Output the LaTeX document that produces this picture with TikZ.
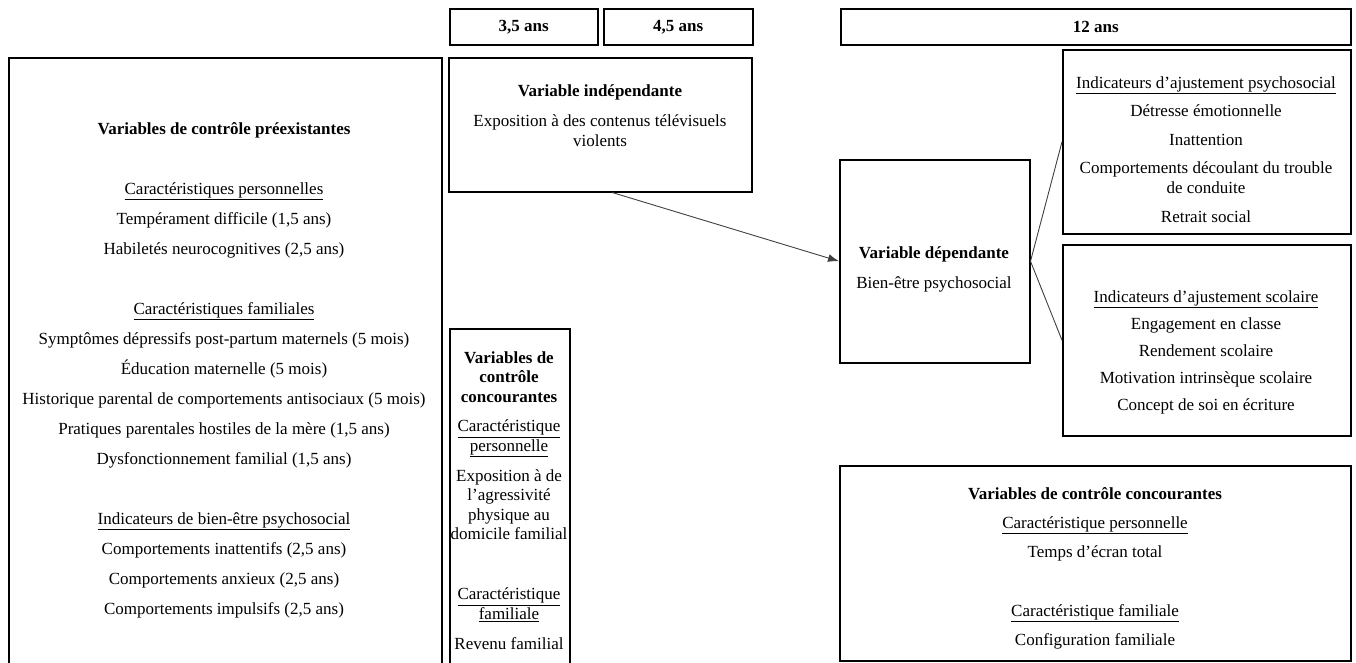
\documentclass[tikz,border=0pt]{standalone}
\usepackage{fontspec}
\setmainfont{Liberation Serif}
\usetikzlibrary{arrows.meta}
\newcommand{\pxunit}{1pt}

\begin{document}
\begin{tikzpicture}
\tikzset{
  box/.style={draw, line width=1.5pt, inner sep=0pt, anchor=north west,
              font=\fontsize{17}{20}\selectfont\bfseries},
  txt/.style={align=center, inner sep=0pt, anchor=north,
              font=\fontsize{17}{20}\selectfont},
  conn/.style={line width=0.9pt, black!75}
}
\useasboundingbox (0,0) rectangle (1356*\pxunit,-662*\pxunit);

% ages
\node[box, minimum width=148*\pxunit, minimum height=36*\pxunit] (age35) at (449*\pxunit,-8*\pxunit) {3,5 ans};
\node[box, minimum width=149*\pxunit, minimum height=36*\pxunit] (age45) at (603*\pxunit,-8*\pxunit) {4,5 ans};
\node[box, minimum width=510*\pxunit, minimum height=36*\pxunit] (age12) at (840*\pxunit,-8*\pxunit) {12 ans};

% boxes
\node[box, minimum width=433*\pxunit, minimum height=620*\pxunit] (pre) at (8*\pxunit,-57*\pxunit) {};
\node[box, minimum width=303*\pxunit, minimum height=134*\pxunit] (vi) at (448*\pxunit,-57*\pxunit) {};
\node[box, minimum width=120*\pxunit, minimum height=350*\pxunit] (concmid) at (449*\pxunit,-328*\pxunit) {};
\node[box, minimum width=190*\pxunit, minimum height=203*\pxunit] (vd) at (839*\pxunit,-159*\pxunit) {};
\node[box, minimum width=288*\pxunit, minimum height=184*\pxunit] (psy) at (1062*\pxunit,-49*\pxunit) {};
\node[box, minimum width=288*\pxunit, minimum height=191*\pxunit] (scol) at (1062*\pxunit,-244*\pxunit) {};
\node[box, minimum width=511*\pxunit, minimum height=195*\pxunit] (concright) at (839*\pxunit,-465*\pxunit) {};

% texts
\node[txt, font=\fontsize{17}{30}\selectfont] (pretext) at (224*\pxunit,-122*\pxunit) {\textbf{Variables de contrôle préexistantes}\\[30pt]
\underline{Caractéristiques personnelles}\\
Tempérament difficile (1,5 ans)\\
Habiletés neurocognitives (2,5 ans)\\[30pt]
\underline{Caractéristiques familiales}\\
Symptômes dépressifs post-partum maternels (5 mois)\\
Éducation maternelle (5 mois)\\
Historique parental de comportements antisociaux (5 mois)\\
Pratiques parentales hostiles de la mère (1,5 ans)\\
Dysfonctionnement familial (1,5 ans)\\[30pt]
\underline{Indicateurs de bien-être psychosocial}\\
Comportements inattentifs (2,5 ans)\\
Comportements anxieux (2,5 ans)\\
Comportements impulsifs (2,5 ans)};

\node[txt] (vitext) at (600*\pxunit,-84*\pxunit) {\textbf{Variable indépendante}\\[10pt]
Exposition à des contenus télévisuels\\
violents};

\node[txt, font=\fontsize{17}{19.6}\selectfont] (concmidtext) at (509*\pxunit,-351*\pxunit) {\textbf{Variables de}\\
\textbf{contrôle}\\
\textbf{concourantes}\\[10pt]
\underline{Caractéristique}\\
\underline{personnelle}\\[10pt]
Exposition à de\\
l’agressivité\\
physique au\\
domicile familial\\[40.4pt]
\underline{Caractéristique}\\
\underline{familiale}\\[10.4pt]
Revenu familial};

\node[txt] (vdtext) at (934*\pxunit,-246*\pxunit) {\textbf{Variable dépendante}\\[10pt]
Bien-être psychosocial};

\node[txt] (psytext) at (1206*\pxunit,-76*\pxunit) {\underline{Indicateurs d’ajustement psychosocial}\\[8.5pt]
Détresse émotionnelle\\[8.5pt]
Inattention\\[8.5pt]
Comportements découlant du trouble\\
de conduite\\[8.5pt]
Retrait social};

\node[txt, font=\fontsize{17}{27}\selectfont] (scoltext) at (1206*\pxunit,-290*\pxunit) {\underline{Indicateurs d’ajustement scolaire}\\
Engagement en classe\\
Rendement scolaire\\
Motivation intrinsèque scolaire\\
Concept de soi en écriture};

\node[txt, font=\fontsize{17}{29}\selectfont] (concrighttext) at (1095*\pxunit,-487*\pxunit) {\textbf{Variables de contrôle concourantes}\\
\underline{Caractéristique personnelle}\\
Temps d’écran total\\[30pt]
\underline{Caractéristique familiale}\\
Configuration familiale};

% connectors
\draw[conn, -{Latex[length=11pt, width=8pt]}] ([xshift=12*\pxunit]vi.south) -- (vd.west);
\draw[conn] (vd.east) -- (psy.west);
\draw[conn] (vd.east) -- (scol.west);

\end{tikzpicture}
\end{document}
